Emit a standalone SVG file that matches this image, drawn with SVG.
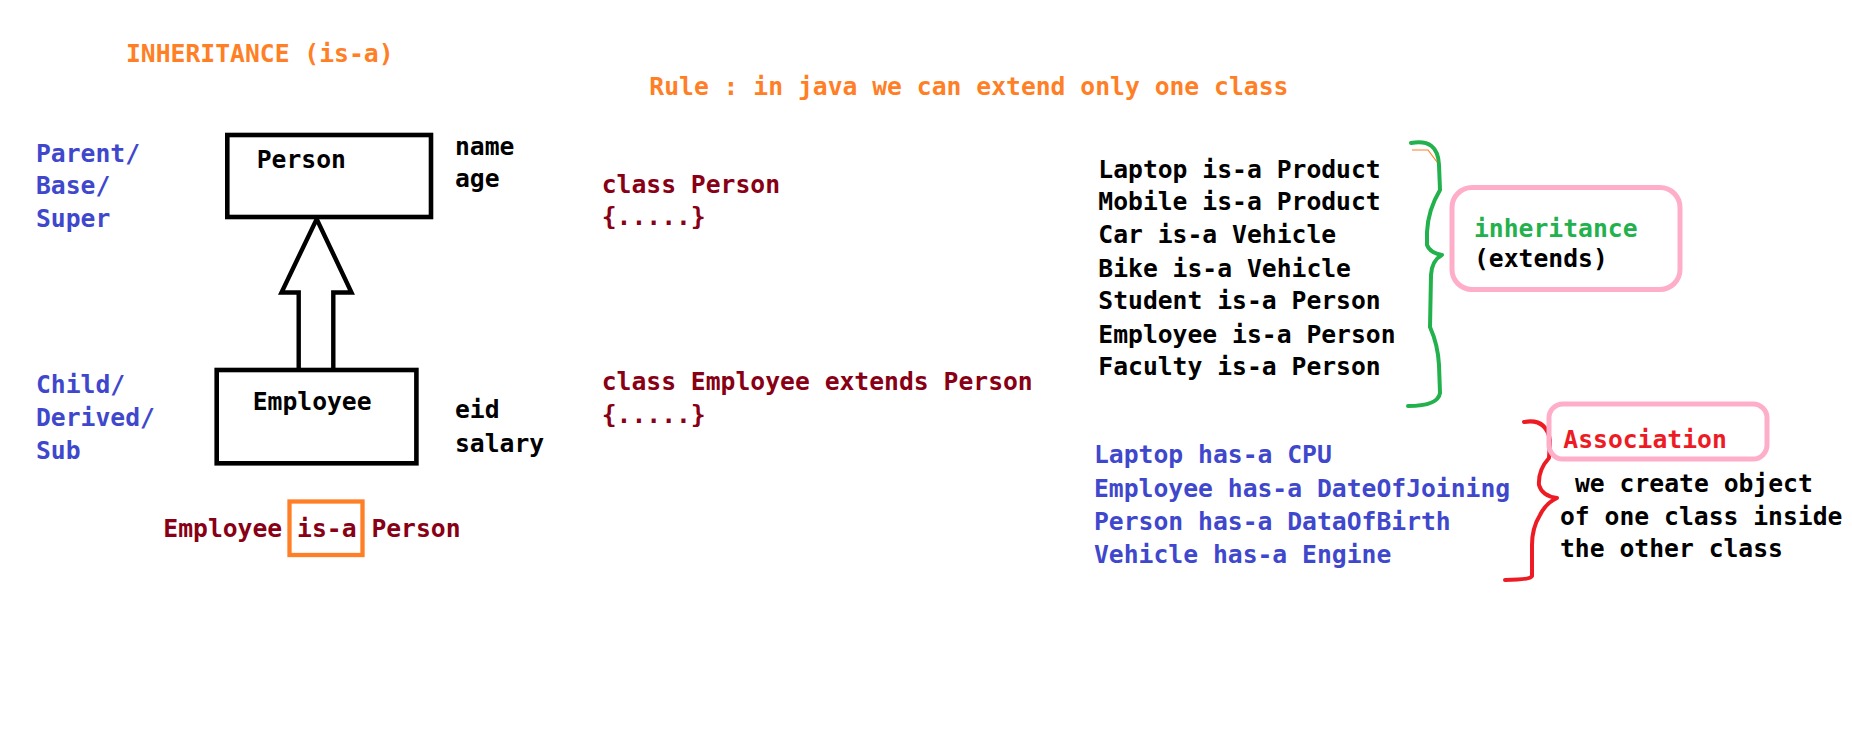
<svg xmlns="http://www.w3.org/2000/svg" width="1852" height="743" viewBox="0 0 1852 743">
<style>
text{font-family:"DejaVu Sans Mono","Liberation Mono",monospace;font-size:24.7px;font-weight:bold}
.or{fill:#ff7f27}.dr{fill:#880015}.bl{fill:#3f48cc}.bk{fill:#000}.gr{fill:#22b14c}.rd{fill:#ed1c24}
.box{fill:#fff;stroke:#000;stroke-width:4.6}
.pink{fill:none;stroke:#ffaec9;stroke-width:5}
.brace{fill:none;stroke-width:4;stroke-linecap:round;stroke-linejoin:round}
</style>
<rect width="1852" height="743" fill="#fff"/>
<g id="connectors">
<path d="M298.7,370 V292.5 H281.5 L316.7,219 L351.5,292.5 H333.3 V370" fill="#fff" stroke="#000" stroke-width="4.4"/>
</g>
<g id="title">
<text x="126" y="62" class="or">INHERITANCE (is-a)</text>
<text x="649.3" y="95" class="or">Rule : in java we can extend only one class</text>
</g>
<g id="parent-labels">
<text x="36" y="161.7" class="bl">Parent/</text>
<text x="36" y="194.3" class="bl">Base/</text>
<text x="36" y="226.7" class="bl">Super</text>
</g>
<g id="child-labels">
<text x="36" y="392.7" class="bl">Child/</text>
<text x="36" y="425.7" class="bl">Derived/</text>
<text x="36" y="458.7" class="bl">Sub</text>
</g>
<g id="person">
<rect x="227.3" y="135" width="203.7" height="82" class="box"/>
<text x="256.7" y="167.7" class="bk">Person</text>
<text x="455" y="155" class="bk">name</text>
<text x="455" y="186.7" class="bk">age</text>
</g>
<g id="employee">
<rect x="216.7" y="370" width="199.7" height="93.3" class="box"/>
<text x="252.7" y="410" class="bk">Employee</text>
<text x="455" y="418.3" class="bk">eid</text>
<text x="455" y="451.7" class="bk">salary</text>
</g>
<g id="is-a-sentence">
<rect x="289.5" y="501.5" width="73" height="53.5" fill="none" stroke="#ff7f27" stroke-width="4.3"/>
<text x="163.3" y="536.7" class="dr">Employee is-a Person</text>
</g>
<g id="code">
<text x="601.7" y="192.7" class="dr">class Person</text>
<text x="601.7" y="225.3" class="dr">{.....}</text>
<text x="601.7" y="390" class="dr">class Employee extends Person</text>
<text x="601.7" y="422.7" class="dr">{.....}</text>
</g>
<g id="is-a-list">
<text x="1098.3" y="177.7" class="bk">Laptop is-a Product</text>
<text x="1098.3" y="210.3" class="bk">Mobile is-a Product</text>
<text x="1098.3" y="243.3" class="bk">Car is-a Vehicle</text>
<text x="1098.3" y="276.7" class="bk">Bike is-a Vehicle</text>
<text x="1098.3" y="309.3" class="bk">Student is-a Person</text>
<text x="1098.3" y="342.7" class="bk">Employee is-a Person</text>
<text x="1098.3" y="375.3" class="bk">Faculty is-a Person</text>
</g>
<g id="green-brace">
<path class="brace" stroke="#22b14c" d="M1411,143 Q1438,138 1439,165 L1440,190 Q1428,210 1427,232 L1427,245 Q1430,253 1442,255 Q1432,260 1431,275 L1430,327 Q1438,345 1439,365 L1440,393 Q1438,406 1408,406"/>
<path d="M1412,150 H1428 L1437,162" fill="none" stroke="#ff7f27" stroke-width="1.2"/>
</g>
<g id="inheritance-box">
<rect x="1452" y="187.5" width="228" height="102" rx="20" class="pink"/>
<text x="1474" y="236.7" class="gr">inheritance</text>
<text x="1474" y="266.7" class="bk">(extends)</text>
</g>
<g id="has-a-list">
<text x="1094" y="463.3" class="bl">Laptop has-a CPU</text>
<text x="1094" y="496.7" class="bl">Employee has-a DateOfJoining</text>
<text x="1094" y="530" class="bl">Person has-a DataOfBirth</text>
<text x="1094" y="562.7" class="bl">Vehicle has-a Engine</text>
</g>
<g id="red-brace">
<path class="brace" stroke="#ed1c24" d="M1524,422 Q1546,418 1550,440 L1549,458 Q1538,470 1539,485 Q1542,496 1557,498 Q1546,503 1540,515 Q1532,528 1532,545 L1532,576 Q1530,580 1505,580"/>
</g>
<g id="association-box">
<rect x="1549" y="404" width="218" height="55" rx="14" class="pink"/>
<text x="1563.3" y="448.3" class="rd">Association</text>
</g>
<g id="association-text">
<text x="1575" y="491.7" class="bk">we create object</text>
<text x="1560" y="525" class="bk">of one class inside</text>
<text x="1560" y="557.3" class="bk">the other class</text>
</g>
</svg>
